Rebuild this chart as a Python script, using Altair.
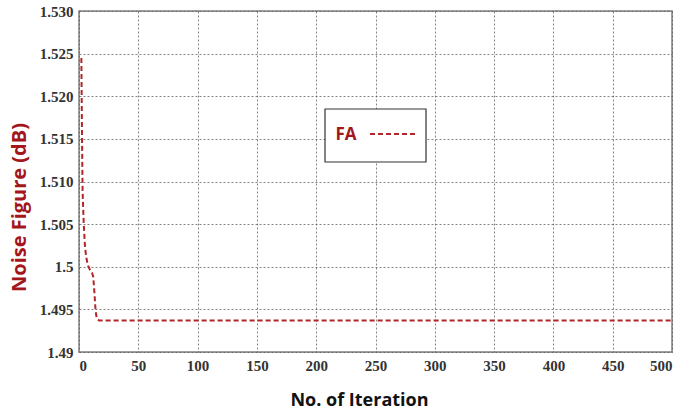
import altair as alt
import pandas as pd

iterations = [2, 2.5, 3, 4, 5, 6, 7, 8, 9, 10, 11, 12, 13, 14, 15, 17, 500]
noise_figure = [1.5245, 1.516, 1.509, 1.505, 1.5025, 1.5012, 1.5005, 1.5, 1.4997,
                1.4995, 1.4993, 1.4988, 1.497, 1.4948, 1.4939, 1.4937, 1.4937]
x_ticks = [0, 50, 100, 150, 200, 250, 300, 350, 400, 450, 500]
y_ticks = [1.49, 1.495, 1.5, 1.505, 1.51, 1.515, 1.52, 1.525, 1.53]
series_name = "FA"

df = pd.DataFrame({"iter": iterations, "nf": noise_figure})

RED = "#b0262b"
TEXT_RED = "#a3161c"
W, H = 593, 341

line = alt.Chart(df).mark_line(
    color=RED, strokeWidth=2, strokeDash=[5, 3], interpolate="linear"
).encode(
    x=alt.X("iter:Q",
            scale=alt.Scale(domain=[0, 500], nice=False, zero=False),
            axis=alt.Axis(values=x_ticks, title="No. of Iteration", format="d",
                          titleX=280, titleY=39)),
    y=alt.Y("nf:Q",
            scale=alt.Scale(domain=[1.49, 1.53], nice=False, zero=False),
            axis=alt.Axis(values=y_ticks, title="Noise Figure (dB)",
                          titleX=-50, titleY=196,
                          labelExpr="abs(datum.value-1.5)<1e-9 ? '1.5' : abs(datum.value-1.49)<1e-9 ? '1.49' : format(datum.value, '.3f')")),
)

legend_df = pd.DataFrame({"name": [series_name]})
box = alt.Chart(legend_df).mark_rect(
    fill="white", stroke="#333333", strokeWidth=1.2
).encode(x=alt.value(246), x2=alt.value(347), y=alt.value(98), y2=alt.value(151))
label = alt.Chart(legend_df).mark_text(
    font="Open Sans", fontWeight="bold", fontSize=17, color=TEXT_RED, align="center", baseline="middle"
).encode(text="name:N", x=alt.value(267), y=alt.value(124))
sample = alt.Chart(legend_df).mark_rule(
    color=RED, strokeWidth=2, strokeDash=[5, 3]
).encode(x=alt.value(291), x2=alt.value(336), y=alt.value(123))

chart = alt.layer(line, box, label, sample).properties(
    width=W, height=H,
    autosize=alt.AutoSizeParams(type="none"),
    padding={"left": 79, "top": 11, "right": 4, "bottom": 62},
    background="white",
).configure_view(
    stroke="#808080", strokeWidth=1.5
).configure_axis(
    grid=True, gridColor="#555555", gridDash=[2, 2], gridWidth=0.8, gridOpacity=0.9,
    domain=False, ticks=False,
    labelFont="Liberation Serif", labelFontWeight="bold", labelFontSize=15, labelColor="#333333",
    labelPadding=6,
    titleFontWeight="bold", titleFont="Open Sans",
).configure_axisY(
    titleColor=TEXT_RED, titleFontSize=20, titleAngle=-90
).configure_axisX(
    titleColor="#111111", titleFontSize=18
)

chart.save("out.html", embed_options={"renderer": "svg", "actions": False})
